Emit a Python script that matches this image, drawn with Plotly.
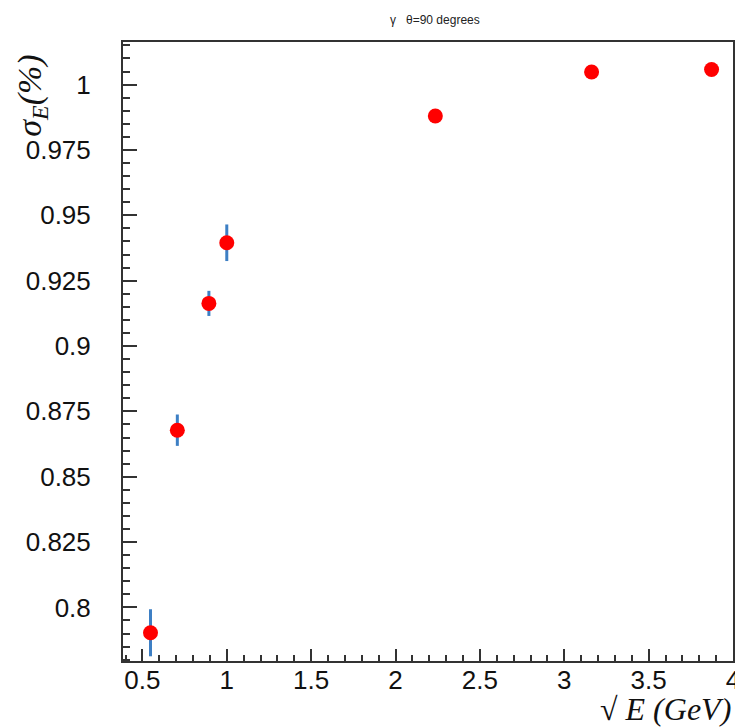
import plotly.graph_objects as go

# data
sqrt_e = [0.548, 0.707, 0.894, 1.0, 2.236, 3.162, 3.873]
sigma_e = [0.7903, 0.8678, 0.9163, 0.9395, 0.9880, 1.0048, 1.0058]
sigma_err = [0.0090, 0.0060, 0.0048, 0.0070, 0.0006, 0.0006, 0.0006]

title_text = "γ   θ=90 degrees"
x_title = "√ <i>E (GeV)</i>"
y_title = "<i>σ<sub>E</sub>(%)</i>"

fig = go.Figure()
fig.add_trace(go.Scatter(
    x=sqrt_e, y=sigma_e, mode="markers",
    marker=dict(color="#ff0000", size=15, symbol="circle"),
    error_y=dict(type="data", array=sigma_err, visible=True,
                 color="#3d7fc4", thickness=3, width=0),
    showlegend=False,
))

tickfont = dict(family="Liberation Sans, Arial, sans-serif", size=26, color="#111111")

# page body has an 8px margin, so the figure starts at (8, 8)
fig.update_layout(
    width=735, height=719,
    margin=dict(l=115, r=10, t=34, b=66),
    paper_bgcolor="white", plot_bgcolor="white",
    xaxis=dict(
        range=[0.385, 4.0], dtick=0.5, tick0=0.5,
        ticks="inside", ticklen=12, tickwidth=1.5, tickcolor="#333",
        minor=dict(ticks="inside", ticklen=6, dtick=0.1, tickcolor="#333", tickwidth=1.5, showgrid=False),
        showgrid=False, zeroline=False, automargin=False,
        showline=True, linecolor="#333", linewidth=2, mirror=True,
        tickfont=tickfont, ticklabelstandoff=-5,
    ),
    yaxis=dict(
        range=[0.7795, 1.0163], dtick=0.025, tick0=0.8,
        ticks="inside", ticklen=14, tickwidth=1.5, tickcolor="#333",
        minor=dict(ticks="inside", ticklen=7, dtick=0.005, tickcolor="#333", tickwidth=1.5, showgrid=False),
        showgrid=False, zeroline=False, automargin=False,
        showline=True, linecolor="#333", linewidth=2, mirror=True,
        tickfont=tickfont, ticklabelstandoff=25,
    ),
    annotations=[
        dict(text=title_text, xref="paper", yref="paper", x=0.511, y=1.0 + 22/611,
             showarrow=False, xanchor="center", yanchor="middle",
             font=dict(family="Liberation Sans, Arial, sans-serif", size=12, color="#222")),
        dict(text=x_title, xref="paper", yref="paper", x=1.0, y=-47/611,
             showarrow=False, xanchor="right", yanchor="middle",
             font=dict(family="Liberation Serif, Times New Roman, serif", size=32, color="#111")),
        dict(text=y_title, xref="paper", yref="paper", x=-91/610, y=(653-95)/611,
             showarrow=False, xanchor="center", yanchor="middle", textangle=-90,
             font=dict(family="Liberation Serif, Times New Roman, serif", size=34, color="#111")),
    ],
)

fig.write_html("out.html")
